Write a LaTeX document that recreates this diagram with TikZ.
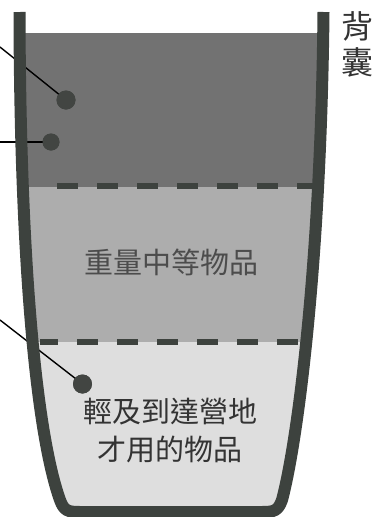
\documentclass[tikz,border=0pt]{standalone}
\usepackage{fontspec}
\newfontfamily\cjk{Noto Sans CJK TC}
\definecolor{wallc}{HTML}{3D423E}
\definecolor{darkfill}{HTML}{727272}
\definecolor{midfill}{HTML}{ADADAD}
\definecolor{lightfill}{HTML}{DEDEDE}
\definecolor{dotc}{HTML}{424542}
\definecolor{txtc}{HTML}{333333}
\tikzset{
  wall/.style={draw=wallc, line width=12pt, line cap=butt, line join=round},
  sepline/.style={draw=wallc, line width=6pt, dash pattern=on 21pt off 19pt},
  leader/.style={draw=black, line width=1.4pt},
  itemdot/.style={circle, fill=dotc, inner sep=0pt},
  lbl/.style={font=\cjk\fontsize{29pt}{38pt}\selectfont, text=txtc, align=center, inner sep=0pt},
  side/.style={font=\cjk\fontsize{32pt}{36pt}\selectfont, text=txtc, align=center, inner sep=0pt}
}
\begin{document}
\begin{tikzpicture}[x=1pt,y=-1pt]
\useasboundingbox (0,0) rectangle (377,517);
% interior bands
\begin{scope}
  \clip (19.5,33) .. controls (20,250) and (35,430) .. (60,500)
        .. controls (64,511) and (68,512) .. (80,512) -- (262,512)
        .. controls (274,512) and (278,511) .. (282,500)
        .. controls (298,440) and (321,260) .. (323.5,33) -- cycle;
  \fill[lightfill] (0,33) rectangle (377,517);
  \fill[midfill] (0,187) rectangle (377,342);
  \fill[darkfill] (0,33) rectangle (377,187);
  \draw[sepline, dash phase=-17pt] (40,186) -- (320,186);
  \draw[sepline, dash phase=3pt] (40,342) -- (320,342);
\end{scope}
% dots and leaders
\node[itemdot, minimum size=19pt] (d1) at (66,100) {};
\node[itemdot, minimum size=17pt] (d2) at (51,142) {};
\node[itemdot, minimum size=19pt] (d3) at (82.5,384) {};
\coordinate (e1) at (0,47);
\coordinate (e2) at (0,142);
\coordinate (e3) at (0,320);
\draw[leader] (e1) -- (d1.center);
\draw[leader] (e2) -- (d2.center);
\draw[leader] (e3) -- (d3.center);
\node[itemdot, minimum size=19pt] at (d1) {};
\node[itemdot, minimum size=17pt] at (d2) {};
\node[itemdot, minimum size=19pt] at (d3) {};
% wall
\draw[wall] (19.5,12) .. controls (20,250) and (35,430) .. (60,500)
        .. controls (64,511) and (68,512) .. (80,512) -- (262,512)
        .. controls (274,512) and (278,511) .. (282,500)
        .. controls (298,440) and (321,260) .. (323.5,12);
% labels
\node[lbl, text=black!70] (mid) at (171,262) {重量中等物品};
\node[lbl] (low) at (170,431) {輕及到達營地\\才用的物品};
\node[side] (bag) at (357,44) {背\\囊};
\end{tikzpicture}
\end{document}
